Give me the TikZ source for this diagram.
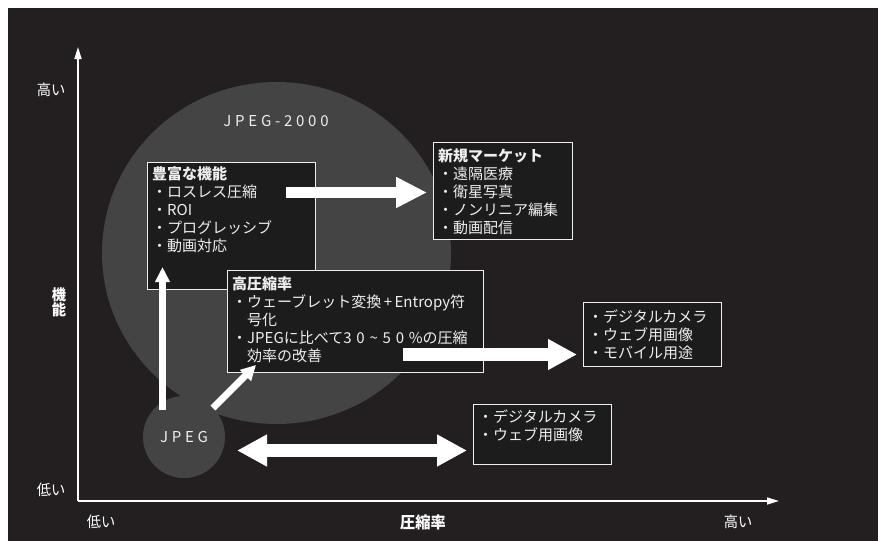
\documentclass[tikz,border=0pt]{standalone}
\usepackage{fontspec}
\setmainfont{Noto Sans CJK JP}
\newfontfamily\lsfont{Noto Sans CJK JP}[LetterSpace=25]
\newfontfamily\lsfontb{Noto Sans CJK JP}[LetterSpace=32]
\newfontfamily\narrowfont{Noto Sans CJK JP}[FakeStretch=0.95]
\usetikzlibrary{arrows.meta,shapes.geometric}
\definecolor{bgdark}{HTML}{231F20}
\definecolor{bubble}{HTML}{444444}
\definecolor{boxfill}{HTML}{1C1C1C}
\definecolor{txt}{HTML}{EEEEEE}
\begin{document}
\begin{tikzpicture}[x=1pt,y=-1pt,
  panel/.style={draw=txt, line width=1.3pt, fill=boxfill, anchor=north west, inner sep=0pt},
  boxtext/.style={anchor=north west, inner sep=0pt, align=left, text=txt, font=\fontsize{15}{18}\selectfont},
  axislabel/.style={text=white, inner sep=0pt, font=\narrowfont\fontsize{15}{15}\selectfont},
  bigarrow/.style n args={3}{draw=white, line width=#1pt, -{Triangle[length=#2pt,width=#3pt]}},
  dblarrow/.style n args={3}{draw=white, line width=#1pt, {Triangle[length=#2pt,width=#3pt]}-{Triangle[length=#2pt,width=#3pt]}},
  axisline/.style={draw=white, line width=1.6pt, -{Triangle[length=12pt,width=7pt]}}
]
\useasboundingbox (0,0) rectangle (884,541);
\fill[white] (0,0) rectangle (884,541);
\fill[bgdark] (8,8) rectangle (878,541);

% bubbles
\node[ellipse, fill=bubble, minimum width=349pt, minimum height=342pt, inner sep=0pt] (j2k) at (276.5,253) {};
\node[circle, fill=bubble, minimum size=82pt, inner sep=0pt, text=txt, font=\lsfont\fontsize{15}{18}\selectfont] (jpeg) at (184,437) {JPEG};
\node[text=txt, inner sep=0pt, font=\lsfont\fontsize{15}{18}\selectfont] (j2klabel) at (276,121) {JPEG-2000};

% axes
\coordinate (origin) at (78,501);
\coordinate (ytip) at (78,47);
\coordinate (xtip) at (779,501);
\draw[axisline] (origin) -- (ytip);
\draw[axisline] (origin) -- (xtip);
\node[axislabel] (yhigh) at (51,90) {高い};
\node[axislabel] (ylow) at (51,490) {低い};
\node[axislabel, align=center, font=\narrowfont\bfseries\fontsize{15}{15}\selectfont] (ytitle) at (59,302) {機\\能};
\node[axislabel] (xlow) at (101,522) {低い};
\node[axislabel, font=\narrowfont\bfseries\fontsize{16}{16}\selectfont] (xtitle) at (423,522) {圧縮率};
\node[axislabel] (xhigh) at (738,522) {高い};

% boxes
\node[panel, minimum width=168pt, minimum height=127pt] (func) at (147,162) {};
\node[panel, minimum width=139pt, minimum height=97pt] (market) at (433,142) {};
\node[panel, minimum width=256pt, minimum height=102pt] (comp) at (227,270) {};
\node[panel, minimum width=138pt, minimum height=64pt] (use3) at (583,302) {};
\node[panel, minimum width=138pt, minimum height=60pt] (use2) at (473,404) {};

\node[boxtext] (functext) at (152,166) {{\bfseries 豊富な機能}\\・ロスレス圧縮\\・ROI\\・プログレッシブ\\・動画対応};
\node[boxtext] (markettext) at (438,149) {{\bfseries 新規マーケット}\\・遠隔医療\\・衛星写真\\・ノンリニア編集\\・動画配信};
\node[boxtext] (comptext) at (232,276) {{\bfseries 高圧縮率}\\・ウェーブレット変換\,+\,Entropy符\\\hspace*{15pt}号化\\・JPEGに比べて{\lsfontb 30\textasciitilde 50\%}の圧縮\\\hspace*{15pt}効率の改善};
\node[boxtext] (use3text) at (588,310) {・デジタルカメラ\\・ウェブ用画像\\・モバイル用途};
\node[boxtext] (use2text) at (478,410) {・デジタルカメラ\\・ウェブ用画像};

% arrows
\coordinate (a1s) at (286,192.5);
\coordinate (a1e) at (427,192.5);
\draw[bigarrow={11}{31}{29}] (a1s) -- (a1e);
\coordinate (a2s) at (162.5,410);
\coordinate (a2e) at (162.5,267);
\draw[bigarrow={7}{15}{14}] (a2s) -- (a2e);
\coordinate (a3s) at (213,408);
\coordinate (a3e) at (256,365);
\draw[bigarrow={7}{15}{15}] (a3s) -- (a3e);
\coordinate (a4s) at (403,354.5);
\coordinate (a4e) at (577,354.5);
\draw[bigarrow={13}{29}{29}] (a4s) -- (a4e);
\coordinate (a5s) at (237,450.5);
\coordinate (a5e) at (467,450.5);
\draw[dblarrow={13}{30}{30}] (a5s) -- (a5e);
\end{tikzpicture}
\end{document}
